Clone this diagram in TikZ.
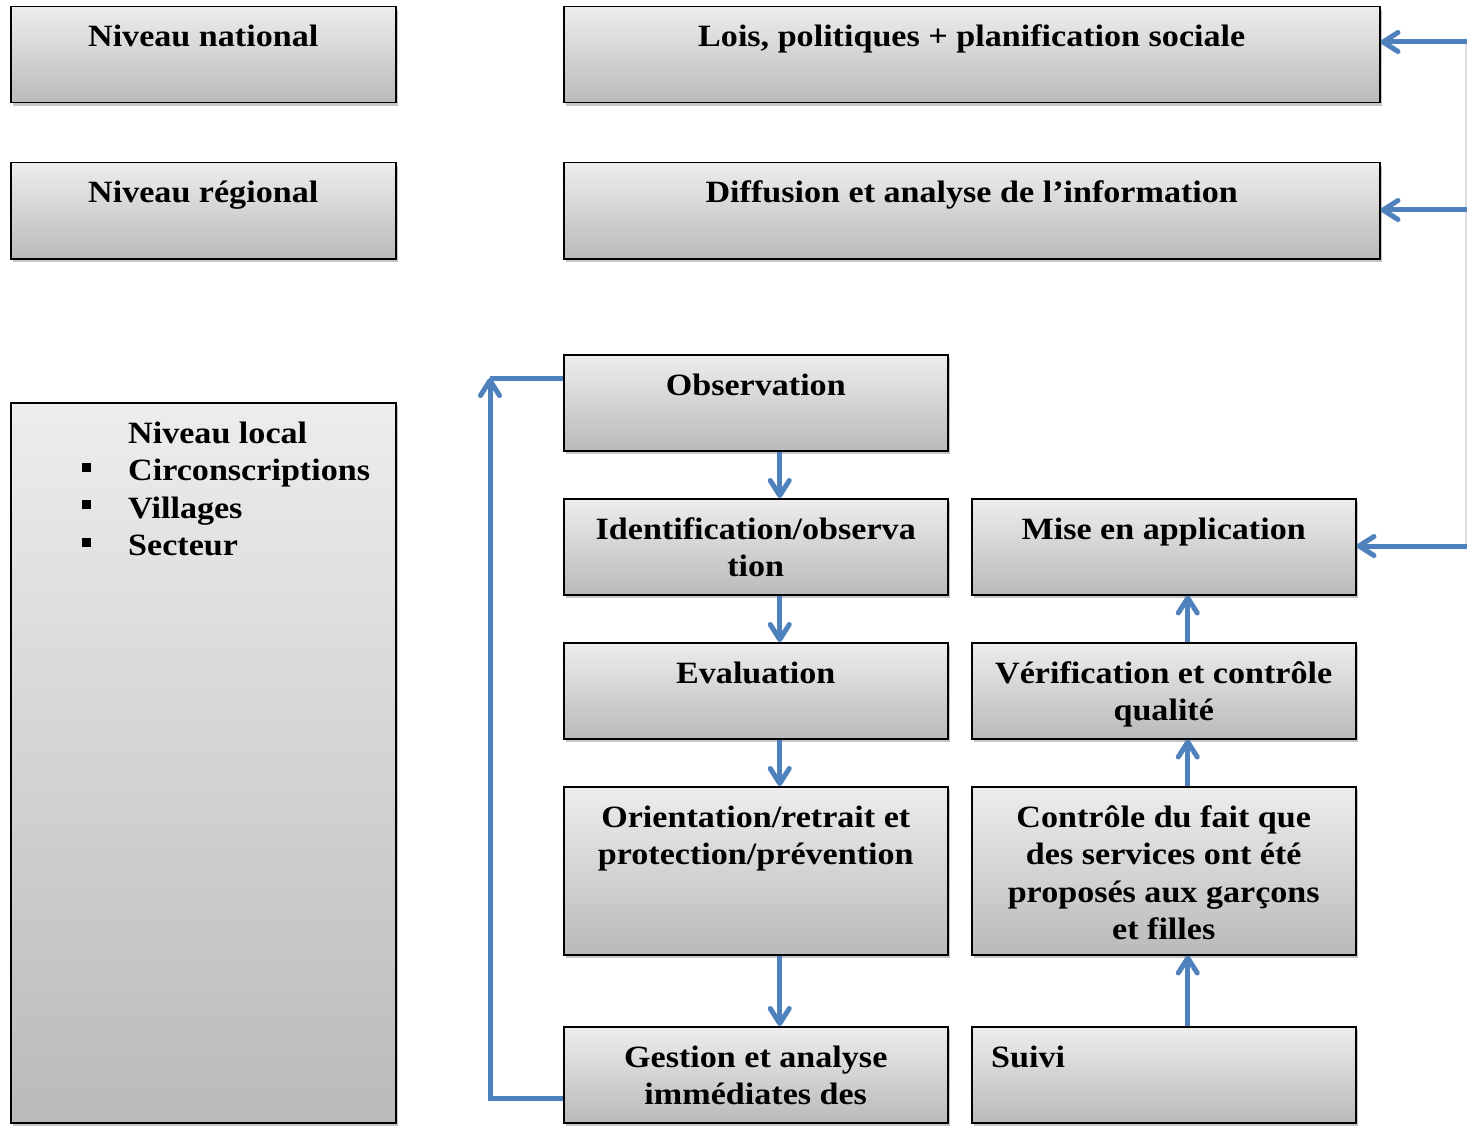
\documentclass[tikz,border=0pt]{standalone}
\usepackage{fontspec}
\setmainfont{Liberation Serif}[FakeStretch=1.1]
\usetikzlibrary{arrows.meta,shadows}
\definecolor{blueC}{HTML}{4F81BD}
\definecolor{gTop}{HTML}{EDEDED}
\definecolor{gBot}{HTML}{BABABA}
\tikzset{
  box/.style={draw=black, line width=1.5pt, top color=gTop, bottom color=gBot,
    drop shadow={shadow xshift=2pt, shadow yshift=-3pt, opacity=0.45},
    anchor=north west, inner sep=0pt},
  txt/.style={font=\bfseries\fontsize{31}{37.5}\selectfont, align=center, anchor=base, inner sep=0pt},
  arr/.style={draw=blueC, line width=5pt, -{Straight Barb[length=15pt,width=19pt,line width=5pt,round]}},
  plainline/.style={draw=blueC, line width=5pt},
  bul/.style={fill=black, minimum size=9pt, inner sep=0pt},
}
\begin{document}
\begin{tikzpicture}[x=1pt,y=-1pt]
\useasboundingbox (0,0) rectangle (1467,1126);
% boxes
\node[box, minimum width=385, minimum height=96] (nat) at (10,6) {};
\node[box, minimum width=816, minimum height=96] (lois) at (563,6) {};
\node[box, minimum width=385, minimum height=96] (reg) at (10,162) {};
\node[box, minimum width=816, minimum height=96] (diff) at (563,162) {};
\node[box, minimum width=385, minimum height=720] (loc) at (10,402) {};
\node[box, minimum width=384, minimum height=96] (obs) at (563,354) {};
\node[box, minimum width=384, minimum height=96] (ident) at (563,498) {};
\node[box, minimum width=384, minimum height=96] (mise) at (971,498) {};
\node[box, minimum width=384, minimum height=96] (eval) at (563,642) {};
\node[box, minimum width=384, minimum height=96] (verif) at (971,642) {};
\node[box, minimum width=384, minimum height=168] (orient) at (563,786) {};
\node[box, minimum width=384, minimum height=168] (ctrl) at (971,786) {};
\node[box, minimum width=384, minimum height=96] (gest) at (563,1026) {};
\node[box, minimum width=384, minimum height=96] (suivi) at (971,1026) {};
% texts (anchor base = baseline of last line)
\node[txt] (natT) at ([yshift=-41pt]nat.north) {Niveau national};
\node[txt] (loisT) at ([yshift=-41pt]lois.north) {Lois, politiques + planification sociale};
\node[txt] (regT) at ([yshift=-41pt]reg.north) {Niveau régional};
\node[txt] (diffT) at ([yshift=-41pt]diff.north) {Diffusion et analyse de l’information};
\node[txt, align=left, anchor=base west] (locT) at (128,555.5) {Niveau local\\Circonscriptions\\Villages\\Secteur};
\node[bul] (b1) at (86,467) {};
\node[bul] (b2) at (86,504.5) {};
\node[bul] (b3) at (86,542) {};
\node[txt] (obsT) at ([yshift=-41pt]obs.north) {Observation};
\node[txt] (identT) at ([yshift=-78.5pt]ident.north) {Identification/observa\\tion};
\node[txt] (miseT) at ([yshift=-41pt]mise.north) {Mise en application};
\node[txt] (evalT) at ([yshift=-41pt]eval.north) {Evaluation};
\node[txt] (verifT) at ([yshift=-78.5pt]verif.north) {Vérification et contrôle\\qualité};
\node[txt] (orientT) at ([yshift=-78.5pt]orient.north) {Orientation/retrait et\\protection/prévention};
\node[txt] (ctrlT) at ([yshift=-153.5pt]ctrl.north) {Contrôle du fait que\\des services ont été\\proposés aux garçons\\et filles};
\node[txt] (gestT) at ([yshift=-78.5pt]gest.north) {Gestion et analyse\\immédiates des};
\node[txt, anchor=base west] (suiviT) at (991,1067) {Suivi};
% connectors
\draw[arr] ([xshift=24pt]obs.south) -- ([xshift=24pt]ident.north);
\draw[arr] ([xshift=24pt]ident.south) -- ([xshift=24pt]eval.north);
\draw[arr] ([xshift=24pt]eval.south) -- ([xshift=24pt]orient.north);
\draw[arr] ([xshift=24pt]orient.south) -- ([xshift=24pt]gest.north);
\draw[arr] ([xshift=24pt]suivi.north) -- ([xshift=24pt]ctrl.south);
\draw[arr] ([xshift=24pt]ctrl.north) -- ([xshift=24pt]verif.south);
\draw[arr] ([xshift=24pt]verif.north) -- ([xshift=24pt]mise.south);
\coordinate (lp) at (490,378);
\draw[arr] ([yshift=-24pt]gest.west) -| (lp);
\draw[plainline] (lp) -- (lp -| obs.west);
\coordinate (r0) at (1466,40);
\coordinate (r1) at (1467,42);
\coordinate (r2) at (1467,210);
\coordinate (r3) at (1467,546);
\draw[black!12, line width=1.5pt] (r0) -- (1466,546);
\draw[arr] (r1) -- (r1 -| lois.east);
\draw[arr] (r2) -- (r2 -| diff.east);
\draw[arr] (r3) -- (r3 -| mise.east);
\end{tikzpicture}
\end{document}
